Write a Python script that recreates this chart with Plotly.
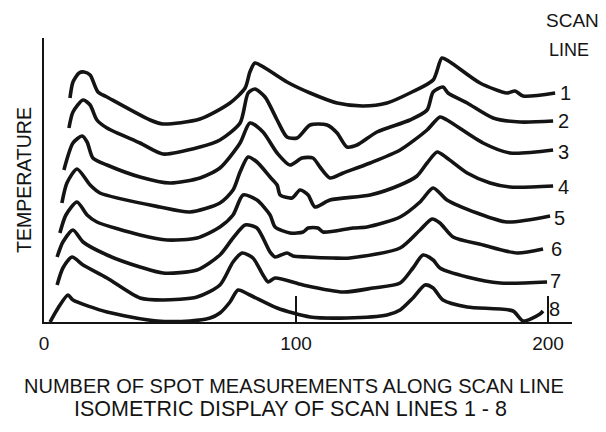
import plotly.graph_objects as go

# ---- data (spot number along scan line, displayed temperature in isometric units) ----
line1_x = [10.3, 11.5, 13.9, 15.9, 18.3, 21.4, 25.0, 42.1, 47.2, 61.9, 73.8, 79.8, 81.7, 83.7, 87.7,
           96.4, 105.6, 116.3, 126.6, 136.1, 145.2, 154.4, 157.9, 161.1, 173.0, 183.7, 186.9, 190.1, 202.8]
line1_t = [224, 240, 249, 250, 247, 230, 225, 202, 198, 203, 219, 234, 250, 259, 254,
           240, 229, 219, 216, 219, 229, 242, 264, 260, 239, 229, 231, 226, 229]

line2_x = [9.9, 11.5, 15.5, 18.3, 21.0, 25.0, 38.1, 47.2, 61.9, 69.8, 77.8, 81.0, 83.7, 87.7, 92.5, 96.4,
           100.4, 105.6, 112.3, 116.3, 120.2, 124.2, 132.1, 145.2, 152.0, 154.4, 158.3, 160.3, 167.9, 178.2,
           188.9, 202.0]
line2_t = [194, 210, 222, 217, 202, 194, 179, 168, 175, 182, 199, 229, 233, 225, 202, 185,
           184, 197, 197, 189, 175, 177, 190, 202, 212, 230, 235, 229, 219, 204,
           200, 201]

line3_x = [7.9, 11.5, 15.1, 17.1, 19.4, 25.0, 38.1, 50.0, 61.9, 69.8, 77.8, 81.7, 86.9, 92.5, 97.6,
           102.4, 106.7, 109.5, 113.5, 118.7, 129.4, 141.3, 152.0, 157.1, 159.9, 174.2, 184.9, 202.0]
line3_t = [152, 179, 186, 180, 164, 157, 145, 139, 144, 154, 179, 199, 190, 169, 157,
           164, 164, 155, 144, 149, 159, 172, 192, 205, 202, 179, 169, 172]

line4_x = [7.1, 9.1, 13.1, 18.3, 22.2, 46.0, 57.9, 69.8, 75.0, 77.8, 81.0, 84.5, 89.7, 92.5, 93.7,
           98.4, 101.6, 104.8, 107.5, 113.5, 129.4, 141.3, 148.0, 152.0, 156.0, 159.9, 167.9, 177.0,
           184.9, 202.0]
line4_t = [119, 139, 153, 137, 129, 115, 110, 119, 132, 150, 165, 160, 145, 137, 127,
           124, 132, 127, 115, 122, 127, 137, 146, 159, 170, 164, 149, 139,
           135, 136]

line5_x = [6.3, 8.7, 13.1, 17.1, 21.0, 38.1, 48.8, 60.7, 69.8, 75.0, 79.0, 84.5, 89.7, 91.7, 97.6,
           102.8, 104.8, 108.7, 110.7, 122.6, 128.2, 141.3, 149.2, 154.4, 159.9, 171.8, 183.7, 200.8]
line5_t = [89, 107, 120, 107, 100, 87, 82, 84, 95, 107, 127, 122, 107, 95, 89,
           90, 94, 94, 90, 94, 95, 105, 120, 134, 122, 109, 100, 106]

line6_x = [5.2, 7.5, 11.5, 15.5, 25.0, 38.1, 47.2, 60.7, 69.8, 75.0, 79.8, 84.5, 89.7, 91.7, 96.4,
           98.8, 104.4, 114.7, 121.4, 141.3, 149.2, 154.0, 157.1, 162.3, 174.2, 187.7, 198.0]
line6_t = [65, 80, 92, 80, 67, 55, 49, 52, 67, 84, 97, 94, 70, 65, 69,
           66, 65, 64, 64, 74, 92, 103, 99, 85, 77, 69, 73]

line7_x = [5.2, 7.5, 11.1, 15.5, 25.0, 38.1, 47.2, 60.7, 69.8, 75.0, 78.6, 82.9, 86.9, 88.9, 91.7,
           102.8, 118.7, 130.6, 141.3, 146.4, 150.4, 154.4, 157.1, 167.9, 181.0, 199.6]
line7_t = [37, 54, 65, 57, 44, 24, 22, 25, 37, 60, 69, 64, 47, 40, 44,
           37, 30, 34, 39, 54, 67, 62, 54, 45, 39, 40]

line8_x = [2.4, 5.6, 9.5, 11.5, 25.0, 44.8, 57.9, 65.9, 69.8, 73.8, 77.0, 81.7, 92.5, 105.6, 120.2,
           136.1, 141.3, 146.4, 151.2, 154.4, 158.3, 167.9, 186.1, 190.1, 196.8, 198.0]
line8_t = [0, 14, 27, 22, 10, 1, 1, 4, 9, 20, 32, 27, 14, 5, 4,
           7, 12, 24, 37, 34, 22, 15, 11, 1, 8, 11]

scan_line_names = ["1", "2", "3", "4", "5", "6", "7", "8"]
label_x = [207.1, 206.3, 206.3, 206.3, 204.4, 203.2, 202.8, 202.4]
label_t = [229, 201, 170, 135, 104, 73, 41, 13]

x_tick_vals = [0, 100, 200]
x_tick_text = ["0", "100", "200"]

# ---- figure ----
INK = "#141414"
FONT = "Liberation Sans, Arial, sans-serif"

xs = [line1_x, line2_x, line3_x, line4_x, line5_x, line6_x, line7_x, line8_x]
ts = [line1_t, line2_t, line3_t, line4_t, line5_t, line6_t, line7_t, line8_t]

fig = go.Figure()
for name, x, t in zip(scan_line_names, xs, ts):
    fig.add_trace(go.Scatter(
        x=x, y=t, mode="lines", name="Scan line " + name,
        line=dict(color=INK, width=3.6, shape="spline", smoothing=0.7),
        hoverinfo="skip", showlegend=False,
    ))

annotations = []
for name, lx, lt in zip(scan_line_names, label_x, label_t):
    annotations.append(dict(x=lx, y=lt, xref="x", yref="y", text=name, showarrow=False,
                            font=dict(family=FONT, size=20, color=INK),
                            xanchor="center", yanchor="middle"))
annotations += [
    dict(x=1.0010, y=1.060, xref="paper", yref="paper", text="SCAN", showarrow=False,
         font=dict(family=FONT, size=19, color=INK), xanchor="center", yanchor="middle"),
    dict(x=0.995, y=0.958, xref="paper", yref="paper", text="LINE", showarrow=False,
         font=dict(family=FONT, size=18, color=INK), xanchor="center", yanchor="middle"),
    dict(x=-0.0379, y=0.5, xref="paper", yref="paper", text="TEMPERATURE", textangle=-90,
         showarrow=False, font=dict(family=FONT, size=19.5, color=INK),
         xanchor="center", yanchor="middle"),
    dict(x=0.4735, y=-0.2254, xref="paper", yref="paper",
         text="NUMBER OF SPOT MEASUREMENTS ALONG SCAN LINE", showarrow=False,
         font=dict(family=FONT, size=20, color=INK), xanchor="center", yanchor="middle"),
    dict(x=0.4678, y=-0.3063, xref="paper", yref="paper",
         text="ISOMETRIC DISPLAY OF SCAN LINES 1 - 8", showarrow=False,
         font=dict(family=FONT, size=21.5, color=INK), xanchor="center", yanchor="middle"),
]

fig.update_layout(
    width=606, height=432,
    # page body adds an 8 px offset, so margins are reduced on the left/top
    margin=dict(l=36, r=42, t=30, b=118, autoexpand=False),
    paper_bgcolor="white", plot_bgcolor="white",
    showlegend=False,
    annotations=annotations,
    xaxis=dict(range=[0, 209.5], showgrid=False, zeroline=False,
               showline=True, linecolor=INK, linewidth=2,
               tickmode="array", tickvals=x_tick_vals, ticktext=x_tick_text,
               ticks="inside", ticklen=26, tickwidth=1.5, tickcolor=INK,
               ticklabelstandoff=3,
               tickfont=dict(family=FONT, size=19, color=INK)),
    yaxis=dict(range=[0, 284], showgrid=False, zeroline=False,
               showline=True, linecolor=INK, linewidth=2,
               showticklabels=False, ticks=""),
)

fig.write_html("out.html")
